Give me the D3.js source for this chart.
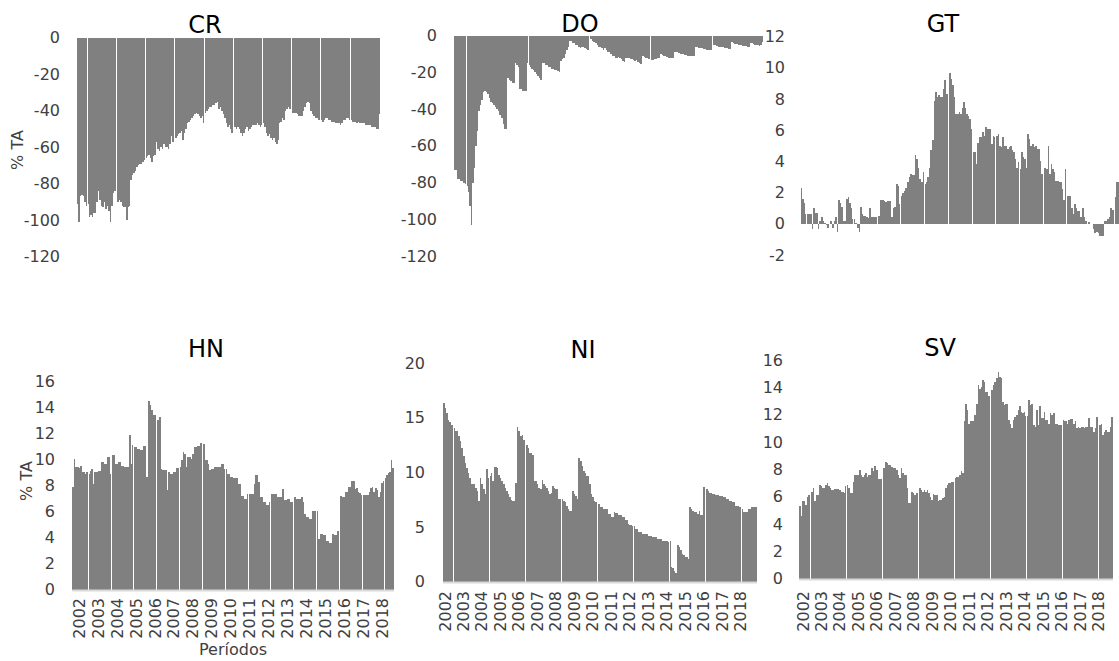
<!DOCTYPE html>
<html>
<head>
<meta charset="utf-8">
<script src="https://cdn.jsdelivr.net/npm/d3@7"></script>
<style>
  body { margin: 0; background: #fff; }
  svg { display: block; font-family: "DejaVu Sans", sans-serif; }
</style>
</head>
<body>
<svg id="chart" width="1119" height="661"></svg>
<script>
// x categories: one bar per month, a label per year
const years = [2002, 2003, 2004, 2005, 2006, 2007, 2008, 2009, 2010, 2011, 2012, 2013, 2014, 2015, 2016, 2017, 2018];
const monthNums = ["01", "02", "03", "04", "05", "06", "07", "08", "09", "10", "11", "12"];

// tick labels of each y axis
const ticksCR = [0, -20, -40, -60, -80, -100, -120];
const ticksDO = [0, -20, -40, -60, -80, -100, -120];
const ticksGT = [12, 10, 8, 6, 4, 2, 0, -2];
const ticksHN = [16, 14, 12, 10, 8, 6, 4, 2, 0];
const ticksNI = [20, 15, 10, 5, 0];
const ticksSV = [16, 14, 12, 10, 8, 6, 4, 2, 0];

// % TA, one line per year (Jan..Dec)
const CR = [
  -91, -101, -87, -86, -87, -90, -92, -91, -98, -97, -98, -96,
  -96, -90, -84, -89, -92, -93, -90, -94, -92, -95, -101, -92,
  -85, -84, -91, -90, -89, -90, -92, -93, -93, -100, -93, -92,
  -78, -75, -74, -73, -71, -70, -69, -69, -68, -67, -66, -65,
  -64, -66, -68, -65, -64, -57, -61, -62, -60, -61, -58, -60,
  -60, -61, -58, -54, -57, -56, -55, -54, -53, -52, -51, -56,
  -52, -50, -47, -46, -45, -44, -43, -42, -41, -42, -43, -44,
  -43, -47, -41, -40, -39, -38, -38, -37, -37, -36, -35, -39,
  -38, -40, -42, -44, -47, -49, -48, -50, -52, -53, -49, -50,
  -49, -50, -52, -54, -52, -50, -49, -51, -50, -49, -48, -48,
  -48, -47, -48, -49, -48, -47, -49, -52, -54, -53, -55, -56,
  -55, -57, -58, -56, -47, -46, -44, -45, -40, -39, -38, -39,
  -40, -41, -41, -41, -42, -43, -43, -43, -40, -38, -36, -35,
  -36, -40, -42, -43, -44, -44, -45, -45, -45, -46, -45, -44,
  -44, -45, -45, -46, -46, -46, -47, -47, -47, -48, -47, -45,
  -45, -44, -44, -45, -45, -46, -46, -46, -47, -46, -47, -47,
  -47, -47, -48, -48, -48, -48, -49, -49, -49, -50, -50, -42
];
const DO = [
  -73, -73, -78, -78, -79, -79, -80, -81, -82, -85, -93, -103,
  -80, -72, -60, -52, -41, -38, -35, -31, -30, -31, -32, -34,
  -36, -37, -38, -39, -40, -41, -43, -45, -48, -51, -51, -23,
  -24, -25, -26, -26, -15, -16, -17, -29, -29, -30, -30, -30,
  -15, -16, -17, -18, -19, -20, -21, -22, -23, -24, -15, -15,
  -16, -16, -17, -17, -18, -18, -19, -19, -19.5, -20, -14, -13,
  -12, -10, -8, -6, -3, -3, -4, -4, -5, -5, -6, -7,
  -6, -6.5, -7, -7.5, -8, -1, -2, -3, -3.5, -4, -5, -6,
  -6, -7, -8, -7, -8, -9, -9, -10, -11, -11, -12, -12,
  -11.5, -12, -13, -14, -14.5, -12, -12, -12.5, -13, -13, -13.5, -14,
  -13.5, -14.5, -15, -15.5, -11, -11.5, -12, -12.5, -13, -13, -13.5, -13.5,
  -13, -13, -12.5, -12, -10, -10.5, -11, -11, -11.5, -12, -12, -12.5,
  -12.5, -9, -9, -9, -9.5, -10, -10, -10, -10.5, -10.5, -11, -11,
  -11, -11, -11, -6.5, -6.5, -7, -7, -7, -7.5, -7.5, -8, -8,
  -8, -8, -4.5, -5, -5, -5.5, -6, -6, -6.5, -6.5, -7, -7,
  -7, -7.5, -7.5, -3.5, -4, -4.5, -4.5, -5, -5, -5, -5.5, -5.5,
  -5.5, -6, -6, -4, -4, -4.5, -5, -5, -5, -5.5, -5, -3.6
];
const GT = [
  2.3, 1.6, 1.35, 0.6, 0.65, 0.65, 0.65, -0.35, 1.0, 0.7, 0.7, -0.35,
  0.15, 0.4, 0.2, 0.05, -0.1, -0.25, -0.2, 0.15, -0.25, 0.2, 0.45, -0.5,
  1.55, 1.35, 1.1, 0.2, 0.2, 1.6, 1.7, 1.35, 1.0, 0.3, 0.3, 0.05,
  -0.3, -0.5, 1.1, 0.6, 0.5, 0.5, 0.4, 0.35, 1.0, 0.4, 0.4, 0.4,
  0.45, 0.5, 0.5, 1.5, 1.5, 1.45, 1.4, 1.45, 1.45, 1.45, 0.4, 1.0,
  1.05, 2.55, 2.45, 1.25, 1.8, 2.0, 2.1, 2.3, 2.65, 3.0, 3.2, 3.1,
  3.1, 4.4, 4.15, 3.6, 2.85, 2.65, 3.3, 2.55, 2.65, 3.0, 3.6, 4.7,
  5.35, 7.9, 8.45, 8.1, 8.25, 8.1, 8.1, 8.65, 9.2, 8.35, 9.2, 9.65,
  9.3, 8.9, 8.1, 7.05, 7.05, 7.15, 7.05, 7.4, 7.8, 7.4, 7.05, 6.9,
  6.7, 6.1, 4.6, 4.6, 3.85, 5.2, 5.55, 5.55, 5.9, 5.65, 6.2, 6.1,
  6.1, 6.1, 5.1, 5.65, 5.55, 5.65, 5.75, 5.0, 4.9, 5.55, 5.0, 5.0,
  4.8, 4.9, 5.0, 4.7, 4.6, 4.15, 3.6, 3.95, 3.5, 4.6, 4.25, 4.15,
  3.6, 5.75, 5.45, 5.0, 5.1, 4.9, 5.0, 4.8, 4.8, 4.05, 3.2, 3.3,
  3.6, 3.5, 5.0, 3.2, 3.85, 3.5, 3.3, 2.75, 2.75, 2.65, 2.65, 2.2,
  1.55, 3.5, 1.8, 1.8, 1.8, 1.0, 0.6, 1.25, 1.0, 0.8, 0.8, 0.4,
  1.0, 0.4, 0.15, 0.0, 0.1, 0.05, 0.0, -0.35, -0.6, -0.5, -0.6, -0.8,
  -0.8, -0.8, 0.15, 0.2, 0.3, 0.4, 1.0, 0.9, 0.9, 1.7, 2.65, 2.65
];
const HN = [
  7.9, 10.0, 9.4, 9.4, 9.3, 9.5, 9.0, 9.0, 8.9, 9.0, 8.9, 9.1,
  9.25, 8.1, 9.0, 9.0, 9.1, 9.1, 9.8, 9.8, 9.65, 9.65, 10.15, 10.15,
  8.9, 10.3, 10.3, 9.65, 9.65, 9.8, 9.8, 9.5, 9.5, 9.4, 9.4, 9.4,
  11.85, 9.65, 11.1, 10.95, 10.95, 10.8, 10.8, 10.7, 10.7, 11.0, 11.0, 8.6,
  14.5, 14.15, 13.75, 13.4, 13.4, 13.3, 13.0, 13.25, 9.25, 9.15, 9.15, 9.2,
  7.6, 9.0, 8.9, 8.9, 9.0, 9.0, 9.3, 9.3, 9.4, 9.9, 10.55, 10.4,
  9.4, 10.15, 10.15, 10.0, 10.4, 10.95, 10.95, 11.05, 11.05, 11.25, 11.25, 11.2,
  9.9, 9.9, 9.65, 9.15, 9.25, 9.25, 9.4, 9.4, 9.4, 9.4, 9.65, 9.65,
  9.25, 9.25, 8.9, 8.9, 8.6, 8.6, 8.55, 8.55, 8.55, 8.1, 8.1, 7.2,
  7.2, 6.95, 6.95, 7.35, 7.35, 7.35, 7.35, 8.1, 8.75, 8.75, 8.25, 7.1,
  7.1, 6.7, 6.7, 6.45, 6.45, 6.7, 7.35, 7.35, 7.35, 7.35, 7.1, 7.1,
  7.1, 7.75, 6.85, 6.85, 6.95, 6.95, 6.7, 6.7, 7.1, 7.1, 6.95, 6.95,
  6.95, 7.1, 6.7, 5.8, 5.55, 5.55, 5.4, 5.4, 6.05, 6.05, 6.05, 6.05,
  3.9, 4.25, 4.25, 4.15, 4.15, 3.75, 3.75, 3.6, 3.6, 4.25, 4.15, 4.15,
  4.5, 7.35, 7.2, 7.1, 7.1, 7.45, 7.45, 7.85, 7.85, 8.35, 8.35, 7.75,
  7.8, 7.5, 7.4, 7.25, 7.25, 7.25, 7.25, 7.25, 7.5, 7.8, 7.9, 7.5,
  7.8, 7.65, 7.1, 7.5, 8.15, 8.3, 8.55, 8.8, 8.95, 9.05, 9.95, 9.3
];
const NI = [
  16.4, 15.9, 15.4, 14.8, 14.65, 14.35, 14.35, 14.05, 13.75, 13.75, 13.3, 12.85,
  12.25, 11.5, 10.9, 10.4, 9.95, 9.5, 8.95, 8.95, 8.9, 8.6, 8.3, 7.4,
  9.5, 8.9, 8.45, 8.0, 10.3, 9.5, 9.65, 9.95, 9.2, 10.5, 10.5, 10.4,
  9.8, 9.5, 9.2, 8.9, 8.6, 8.3, 8.0, 7.7, 7.45, 7.4, 7.4, 9.0,
  14.2, 13.75, 13.3, 13.45, 13.0, 12.85, 12.55, 12.25, 11.8, 11.8, 11.6, 9.2,
  9.2, 8.9, 8.6, 8.45, 9.3, 8.9, 8.75, 8.6, 8.3, 8.05, 8.15, 8.75,
  8.6, 8.45, 8.45, 7.55, 7.55, 7.55, 7.4, 7.25, 6.95, 6.65, 6.5, 6.5,
  8.3, 8.0, 7.85, 7.55, 11.35, 11.05, 10.6, 10.1, 9.95, 9.65, 9.65, 8.9,
  8.0, 7.7, 7.4, 7.25, 7.1, 7.1, 6.8, 6.8, 6.65, 6.65, 6.65, 6.2,
  6.2, 5.9, 5.9, 6.35, 6.25, 6.25, 6.05, 6.05, 5.9, 5.9, 5.6, 5.6,
  5.3, 5.2, 5.2, 5.1, 5.1, 4.8, 4.8, 4.5, 4.5, 4.35, 4.35, 4.35,
  4.35, 4.2, 4.2, 4.2, 4.05, 4.05, 4.05, 3.9, 3.9, 3.9, 3.75, 3.75,
  3.75, 3.75, 3.6, 3.7, 1.35, 1.2, 1.0, 0.8, 3.3, 3.2, 2.85, 2.55,
  2.4, 2.2, 2.2, 2.1, 6.8, 6.65, 6.5, 6.4, 6.35, 6.2, 6.5, 6.05,
  6.05, 8.7, 8.6, 8.45, 8.3, 8.15, 8.15, 8.0, 8.0, 7.95, 7.95, 7.85,
  7.85, 7.85, 7.7, 7.7, 7.55, 7.55, 7.4, 7.4, 7.25, 7.25, 6.95, 6.95,
  6.8, 6.8, 6.65, 6.4, 6.4, 6.4, 6.65, 6.65, 6.8, 6.8, 6.8, 6.8
];
const SV = [
  5.3, 4.55, 5.7, 5.65, 5.4, 6.0, 6.15, 6.15, 6.35, 6.6, 5.65, 6.15,
  6.15, 6.85, 6.8, 6.6, 6.6, 6.85, 7.0, 6.75, 6.6, 6.5, 6.5, 6.55,
  6.55, 6.55, 6.5, 6.35, 6.3, 6.25, 6.75, 6.85, 6.6, 6.25, 6.25, 7.1,
  7.6, 7.6, 7.6, 7.95, 7.55, 7.45, 7.6, 7.7, 7.45, 7.55, 7.55, 8.1,
  7.85, 8.25, 7.95, 7.25, 7.25, 7.3, 8.1, 8.1, 8.55, 8.45, 8.3, 8.3,
  8.2, 8.1, 8.1, 7.95, 7.6, 7.35, 8.1, 7.7, 7.6, 7.6, 6.6, 5.5,
  5.5, 6.35, 6.25, 6.15, 6.25, 6.15, 6.6, 6.5, 6.35, 6.5, 6.35, 6.5,
  6.25, 6.0, 5.75, 6.2, 6.15, 6.15, 5.7, 5.75, 5.75, 5.9, 6.0, 6.6,
  6.85, 7.0, 7.0, 7.1, 7.1, 7.35, 7.4, 7.45, 7.6, 7.85, 7.7, 11.5,
  12.8, 12.35, 11.35, 11.5, 11.5, 11.5, 11.95, 12.8, 14.15, 13.9, 14.0, 14.5,
  14.4, 13.65, 13.65, 13.4, 13.4, 13.8, 14.15, 14.4, 14.65, 15.15, 14.75, 14.65,
  12.95, 12.7, 12.8, 12.8, 11.6, 11.35, 11.0, 11.6, 11.85, 11.95, 12.35, 12.6,
  12.2, 12.1, 12.2, 11.9, 11.9, 13.05, 12.7, 12.8, 11.25, 11.1, 12.35, 11.25,
  12.6, 11.75, 11.75, 12.2, 11.6, 11.6, 11.35, 12.1, 11.95, 12.1, 11.35, 11.35,
  11.25, 11.25, 11.25, 11.6, 11.5, 11.5, 11.35, 11.6, 11.7, 11.7, 11.35, 11.5,
  11.0, 11.1, 11.05, 11.1, 11.1, 11.0, 11.1, 11.1, 11.75, 11.1, 11.1, 10.75,
  11.0, 11.85, 11.5, 11.25, 11.35, 10.5, 10.75, 10.9, 10.75, 10.75, 11.1, 11.85
];

const months = years.flatMap(y => monthNums.map(m => y + "-" + m));

// panel layout (pixels); hair = [first, pitch] of the thin white streaks in the bars
const panels = [
  { name: "CR", values: CR, ticks: ticksCR, domain: [-120, 0], xr: [77, 380], yr: [256.7, 37.7], hair: [87.3, 29.2],
    tickX: 60, title: [205, 33], yTitle: [17, 150] },
  { name: "DO", values: DO, ticks: ticksDO, domain: [-120, 0], xr: [454, 763.3], yr: [256, 35.5], hair: [466.7, 61.4],
    tickX: 437, title: [580, 32] },
  { name: "GT", values: GT, ticks: ticksGT, domain: [-2, 12], xr: [800.7, 1119.5], yr: [254.9, 36.7], hair: [806.1, 23.7],
    tickX: 785, title: [943, 32] },
  { name: "HN", values: HN, ticks: ticksHN, domain: [0, 16], xr: [72.3, 394], yr: [589.5, 381], hair: [88.3, 22.82],
    tickX: 55, title: [206, 357], yTitle: [26, 481], xTitle: [233, 655], labelTop: 598, labelShift: 6 },
  { name: "NI", values: NI, ticks: ticksNI, domain: [0, 20], xr: [443, 757], yr: [581.5, 363.3], hair: [453.3, 36.05],
    tickX: 425, title: [583, 358], labelTop: 591, labelShift: 1 },
  { name: "SV", values: SV, ticks: ticksSV, domain: [0, 16], xr: [799, 1113], yr: [578.5, 360], hair: [810, 36.04],
    tickX: 783, title: [940, 356], labelTop: 591, labelShift: 3 }
];

const svg = d3.select("#chart");
const plain = d => String(d); // hyphen minus, like the original

panels.forEach(p => {
  const x = d3.scaleBand().domain(months).range(p.xr).paddingInner(0);
  const y = d3.scaleLinear().domain(p.domain).range(p.yr);
  const g = svg.append("g").attr("class", "panel-" + p.name);

  // bars, snapped to whole pixels so neighbours touch
  const left = m => Math.round(x(m));
  const right = m => Math.round(x(m) + x.bandwidth());
  g.append("g")
    .attr("fill", "#808080")
    .attr("shape-rendering", "crispEdges")
    .selectAll("rect")
    .data(p.values.map((v, i) => ({ m: months[i], v: v })))
    .join("rect")
    .attr("x", d => left(d.m))
    .attr("width", d => right(d.m) - left(d.m))
    .attr("y", d => y(Math.max(0, d.v)))
    .attr("height", d => Math.abs(y(d.v) - y(0)));

  // thin white streaks that run through the bars in the original image
  g.append("g")
    .attr("stroke", "#fff")
    .attr("stroke-width", 1)
    .attr("shape-rendering", "crispEdges")
    .selectAll("line")
    .data(d3.range(p.hair[0], p.xr[1] - 1, p.hair[1]))
    .join("line")
    .attr("x1", d => Math.floor(d) + 0.5).attr("x2", d => Math.floor(d) + 0.5)
    .attr("y1", d3.min(p.yr)).attr("y2", d3.max(p.yr));

  // y axis: labels only
  const yAxis = g.append("g")
    .attr("transform", `translate(${p.xr[0]},0)`)
    .call(d3.axisLeft(y).tickValues(p.ticks).tickFormat(plain).tickSize(0).tickPadding(p.xr[0] - p.tickX));
  yAxis.select(".domain").remove();
  yAxis.selectAll("text")
    .attr("font-family", "DejaVu Sans, sans-serif")
    .attr("font-size", 16)
    .attr("fill", "#404040");

  // bottom row: light baseline and rotated year labels
  if (p.labelTop) {
    g.append("line")
      .attr("x1", p.xr[0]).attr("x2", p.xr[1])
      .attr("y1", y(0) + 1).attr("y2", y(0) + 1)
      .attr("stroke", "#d9d9d9")
      .attr("stroke-width", 2);

    const xAxis = g.append("g")
      .attr("transform", `translate(0,${y(0)})`)
      .call(d3.axisBottom(x)
        .tickValues(months.filter(m => m.endsWith("-01")))
        .tickFormat(m => m.slice(0, 4))
        .tickSize(0));
    xAxis.select(".domain").remove();
    xAxis.selectAll("text")
      .attr("font-family", "DejaVu Sans, sans-serif")
      .attr("font-size", 16)
      .attr("fill", "#404040")
      .attr("transform", "rotate(-90)")
      .attr("text-anchor", "end")
      .attr("x", -(p.labelTop - y(0)))
      .attr("y", p.labelShift)
      .attr("dy", "0.36em");
  }

  // panel title
  g.append("text")
    .attr("x", p.title[0])
    .attr("y", p.title[1])
    .attr("text-anchor", "middle")
    .attr("font-size", 24)
    .attr("fill", "#000")
    .text(p.name);

  if (p.yTitle) {
    g.append("text")
      .attr("transform", `translate(${p.yTitle[0]},${p.yTitle[1]}) rotate(-90)`)
      .attr("text-anchor", "middle")
      .attr("dy", "0.36em")
      .attr("font-size", 16)
      .attr("fill", "#404040")
      .text("% TA");
  }

  if (p.xTitle) {
    g.append("text")
      .attr("x", p.xTitle[0])
      .attr("y", p.xTitle[1])
      .attr("text-anchor", "middle")
      .attr("font-size", 16)
      .attr("fill", "#404040")
      .text("Períodos");
  }
});
</script>
</body>
</html>
